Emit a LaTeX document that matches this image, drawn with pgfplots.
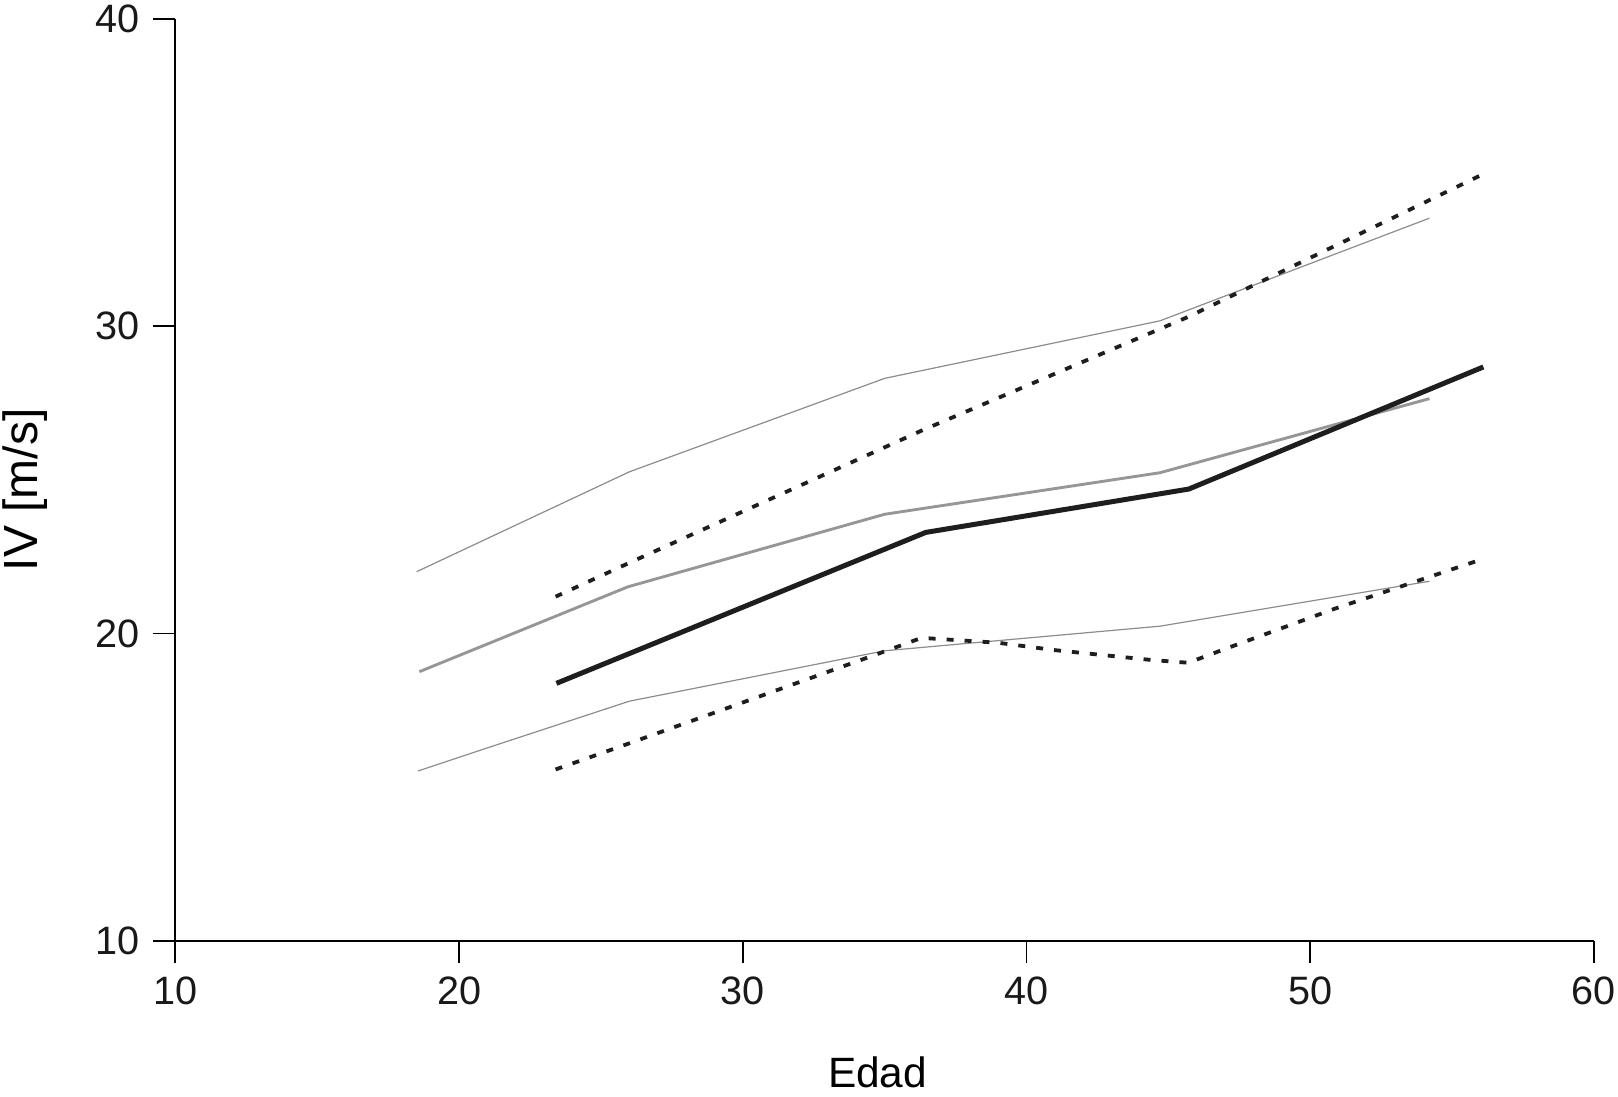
\documentclass[border=0pt]{standalone}
\usepackage{pgfplots}
\pgfplotsset{compat=1.18}
\usepackage{fontspec}
\setmainfont{Liberation Sans}
\definecolor{thickblack}{RGB}{30,30,30}
\definecolor{midgray}{RGB}{150,150,150}
\definecolor{thingray}{RGB}{140,140,140}
\begin{document}
\begin{tikzpicture}
\begin{axis}[
  scale only axis,
  width=354.65pt, height=230.6pt,
  xmin=10, xmax=60, ymin=10, ymax=40,
  axis lines=left,
  axis line style={-, line width=0.45pt, black},
  xtick={10,20,...,60}, ytick={10,20,30,40},
  tick align=outside,
  major tick length=5.5pt,
  tick style={line width=0.45pt, black},
  /pgf/number format/assume math mode=true,
  ticklabel style={font=\fontsize{9.9}{11}\selectfont, text=black!90},
  xlabel={Edad}, ylabel={IV [m/s]},
  xlabel style={at={(axis description cs:0.495,-0.1584)}, anchor=base, font=\fontsize{10.6}{12}\selectfont},
  ylabel style={at={(axis description cs:-0.106,0.489)}, anchor=center, rotate=0, font=\fontsize{12}{14}\selectfont},
  clip=false,
]
% thin gray upper
\addplot[thingray, line width=0.3pt] coordinates {(18.5,22.01) (26.0,25.26) (35.0,28.3) (44.7,30.17) (54.2,33.51)};
% thin gray lower
\addplot[thingray, line width=0.3pt] coordinates {(18.55,15.53) (20.96,16.27) (26.0,17.8) (35.0,19.44) (44.7,20.24) (54.2,21.7)};
% medium gray
\addplot[midgray, line width=0.72pt] coordinates {(18.6,18.76) (25.95,21.52) (35.0,23.88) (44.7,25.23) (54.2,27.64)};
% dotted upper
\addplot[thickblack, line width=0.95pt, dash pattern=on 1.75pt off 2.75pt] coordinates {(23.4,21.2) (26.0,22.3) (36.3,26.6) (45.7,30.3) (56.0,34.9)};
% dotted lower
\addplot[thickblack, line width=0.95pt, dash pattern=on 1.75pt off 2.75pt] coordinates {(23.4,15.58) (26.0,16.43) (35.0,19.42) (36.3,19.86) (39.0,19.7) (41.0,19.46) (44.4,19.14) (45.7,19.05) (47.0,19.5) (50.9,20.82) (56.0,22.4)};
% thick black
\addplot[thickblack, line width=1.25pt] coordinates {(23.43,18.38) (36.45,23.29) (45.72,24.70) (56.1,28.67)};
\end{axis}
\pgfresetboundingbox
\path (-43.85pt,-38.75pt) rectangle (360.65pt,235.25pt);
\end{tikzpicture}
\end{document}
